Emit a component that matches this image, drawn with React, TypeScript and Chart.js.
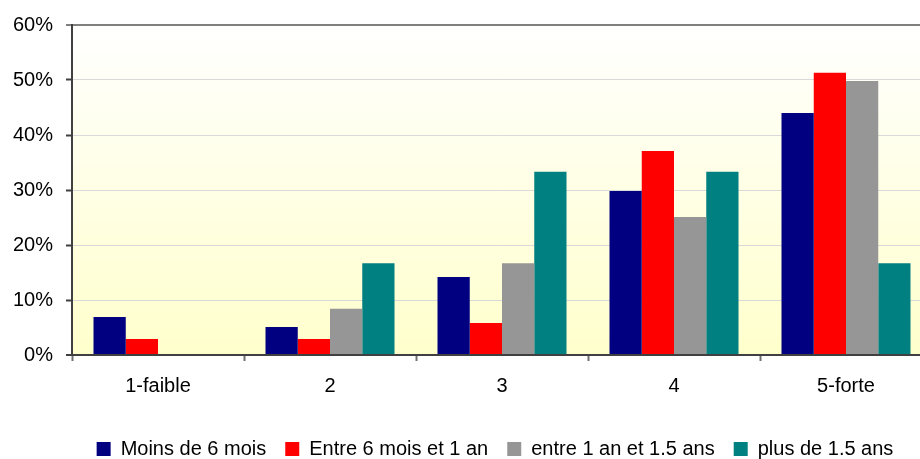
import React, { useEffect, useRef } from "react";
import { Chart, registerables } from "chart.js";

Chart.register(...registerables);

const categories = ["1-faible", "2", "3", "4", "5-forte"];
const seriesNames = ["Moins de 6 mois", "Entre 6 mois et 1 an", "entre 1 an et 1.5 ans", "plus de 1.5 ans"];
const moinsDe6Mois = [6.9, 5.1, 14.2, 29.8, 44.0];
const entre6MoisEt1An = [2.9, 2.9, 5.8, 37.1, 51.3];
const entre1AnEt15Ans = [0, 8.4, 16.7, 25.1, 49.8];
const plusDe15Ans = [0, 16.7, 33.3, 33.3, 16.7];
const seriesColors = ["#000080", "#FF0000", "#969696", "#008080"];
const yTickMax = 60;
const yTickStep = 10;

const FONT = "'Liberation Sans', Arial, sans-serif";

const bgPlugin = {
  id: "bgGradient",
  beforeDraw(chart: any) {
    const { ctx, chartArea } = chart;
    if (!chartArea) return;
    const g = ctx.createLinearGradient(0, chartArea.top, 0, chartArea.bottom);
    g.addColorStop(0, "#FFFFFF");
    g.addColorStop(1, "#FFFFCC");
    ctx.save();
    ctx.fillStyle = g;
    ctx.fillRect(chartArea.left, chartArea.top, chartArea.right - chartArea.left, chartArea.bottom - chartArea.top);
    ctx.restore();
  },
};

const legendShift = {
  id: "legendShift",
  afterLayout(chart: any) {
    const lg = chart.legend;
    if (lg) {
      lg.left += 29;
      lg.right += 29;
    }
  },
};

export default function App() {
  const ref = useRef<HTMLCanvasElement>(null);
  useEffect(() => {
    if (!ref.current) return;
    const data = [moinsDe6Mois, entre6MoisEt1An, entre1AnEt15Ans, plusDe15Ans];
    const chart = new Chart(ref.current, {
      type: "bar",
      data: {
        labels: categories,
        datasets: seriesNames.map((name, i) => ({
          label: name,
          data: data[i],
          backgroundColor: seriesColors[i],
          borderWidth: 0,
          categoryPercentage: 0.75,
          barPercentage: 1,
        })),
      },
      options: {
        responsive: false,
        animation: false,
        devicePixelRatio: 1,
        layout: { padding: { top: 25, left: 0, right: 8, bottom: 0 } },
        plugins: {
          tooltip: { enabled: false },
          legend: {
            position: "bottom",
            labels: {
              boxWidth: 14,
              boxHeight: 14,
              padding: 19,
              color: "#000",
              font: { family: FONT, size: 20 },
            },
          },
        },
        scales: {
          x: {
            afterFit(scale: any) {
              scale.height = 65;
            },
            grid: {
              display: true,
              drawOnChartArea: false,
              drawTicks: true,
              tickLength: 6,
              tickColor: "#707070",
              tickWidth: 2,
              offset: true,
            },
            border: { display: true, color: "#404040", width: 2 },
            ticks: { color: "#000", padding: 13, font: { family: FONT, size: 20 } },
          },
          y: {
            min: 0,
            max: yTickMax,
            afterFit(scale: any) {
              scale.width = 72;
            },
            grid: {
              color: (c: any) => (c.tick && c.tick.value === yTickMax ? "#808080" : c.tick && c.tick.value === 0 ? "#404040" : "#D9D9D9"),
              lineWidth: (c: any) => (c.tick && (c.tick.value === yTickMax || c.tick.value === 0) ? 2 : 1),
              tickLength: 6,
              tickColor: (c: any) => (c.tick && c.tick.value === yTickMax ? "#808080" : "#404040"),
              tickWidth: 2,
            },
            border: { display: true, color: "#404040", width: 2 },
            ticks: {
              stepSize: yTickStep,
              color: "#000",
              padding: 13,
              font: { family: FONT, size: 20 },
              callback: (v: any) => `${v}%`,
            },
          },
        },
      },
      plugins: [bgPlugin, legendShift],
    });
    return () => chart.destroy();
  }, []);
  return (
    <div style={{ position: "fixed", left: 0, top: 0, width: 920, height: 459, overflow: "hidden", background: "#fff" }}>
      <canvas ref={ref} width={940} height={469} style={{ display: "block", width: 940, height: 469 }} />
    </div>
  );
}
